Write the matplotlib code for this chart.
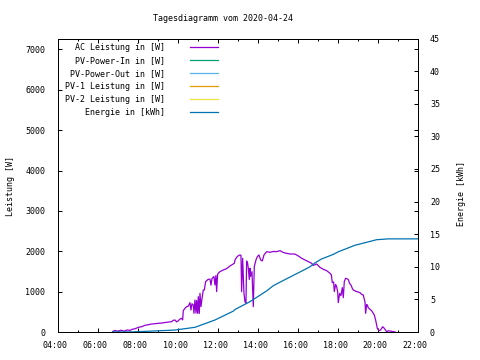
import matplotlib
matplotlib.use('Agg')
import matplotlib.pyplot as plt
from matplotlib.ticker import MultipleLocator, FuncFormatter
import matplotlib.transforms as mtrans

plt.rcParams['font.family'] = ['DejaVu Sans Mono', 'DejaVu Sans']
plt.rcParams['font.size'] = 6

# ---------------- data ----------------
title = "Tagesdiagramm vom 2020-04-24"
series_names = ["AC Leistung in [W]", "PV-Power-In in [W]", "PV-Power-Out in [W]",
                "PV-1 Leistung in [W]", "PV-2 Leistung in [W]", "Energie in [kWh]"]
series_colors = ["#9400d3", "#009e73", "#56b4e9", "#e69f00", "#f0e442", "#0072b2"]

ac_time = ["06:43", "06:50", "06:59", "07:08", "07:17", "07:26", "07:35", "07:41", "07:50",
           "08:00", "08:10", "08:20", "08:30", "08:40", "08:50", "09:00", "09:10", "09:20",
           "09:30", "09:40", "09:45", "09:50", "09:55", "10:00", "10:05", "10:10", "10:13",
           "10:15", "10:20", "10:25", "10:30", "10:35", "10:38", "10:41", "10:45", "10:47",
           "10:50", "10:53", "10:55", "10:58", "11:00", "11:03", "11:05", "11:08", "11:12",
           "11:15", "11:18", "11:22", "11:26", "11:30", "11:35", "11:38", "11:41", "11:44",
           "11:47", "11:50", "11:53", "11:55", "11:58", "12:00", "12:05", "12:15", "12:25",
           "12:35", "12:45", "12:48", "12:50", "12:55", "13:00", "13:05", "13:08", "13:10",
           "13:13", "13:17", "13:20", "13:23", "13:25", "13:28", "13:30", "13:33", "13:35",
           "13:37", "13:41", "13:45", "13:48", "13:53", "13:57", "14:02", "14:07", "14:12",
           "14:17", "14:25", "14:35", "14:45", "14:55", "15:05", "15:15", "15:25", "15:35",
           "15:50", "16:00", "16:10", "16:20", "16:30", "16:40", "16:45", "16:55", "17:05",
           "17:15", "17:25", "17:35", "17:39", "17:42", "17:46", "17:48", "17:52", "17:55",
           "17:58", "18:00", "18:04", "18:08", "18:12", "18:15", "18:18", "18:22", "18:26",
           "18:30", "18:34", "18:38", "18:42", "18:45", "18:50", "18:55", "19:00", "19:05",
           "19:10", "19:15", "19:18", "19:20", "19:22", "19:25", "19:27", "19:30", "19:35",
           "19:40", "19:45", "19:48", "19:52", "19:57", "20:02", "20:07", "20:13", "20:17",
           "20:20", "20:25", "20:30", "20:35", "20:45", "20:50"]
ac_power = [10, 40, 15, 45, 20, 50, 40, 66, 80,
            116, 130, 166, 180, 198, 205, 215, 222, 235,
            245, 256, 290, 297, 250, 280, 320, 339, 300,
            528, 587, 628, 640, 727, 545, 700, 669, 463,
            793, 470, 780, 463, 876, 460, 958, 628, 880,
            1040, 1040, 1247, 1280, 1305, 1310, 1160, 1320, 1350,
            1371, 1165, 1400, 1000, 1430, 1454, 1495, 1536, 1570,
            1635, 1685, 1702, 1780, 1850, 1890, 1908, 1900, 1000,
            1826, 958, 750, 711, 1760, 1700, 1578, 1300, 1578,
            1380, 1495, 628, 1620, 1784, 1866, 1908, 1784, 1760,
            1908, 1990, 1974, 1995, 1990, 2015, 1970, 1949, 1933,
            1930, 1883, 1826, 1784, 1742, 1702, 1650, 1685, 1602,
            1553, 1520, 1454, 1420, 1222, 1240, 1000, 1180, 1123,
            1000, 727, 958, 900, 1100, 850, 1250, 1330, 1320,
            1300, 1200, 1165, 1080, 1040, 1020, 1000, 990, 975,
            930, 917, 810, 752, 463, 680, 669, 600, 562,
            528, 463, 421, 297, 91, 33, 50, 132, 100,
            66, 8, 30, 25, 8, 5]

energy_time = ["06:43", "07:45", "08:45", "09:50", "10:50", "11:05", "11:50", "12:45", "12:50",
               "13:35", "14:25", "14:45", "15:15", "16:05", "16:35", "16:50", "17:10", "17:45",
               "18:00", "18:50", "19:40", "19:55", "20:30", "22:00"]
energy_kwh = [0.0, 0.02, 0.15, 0.3, 0.72, 1.0, 1.84, 3.2, 3.45,
              4.65, 6.3, 7.1, 7.9, 9.2, 10.0, 10.6, 11.2, 11.9,
              12.3, 13.3, 13.95, 14.15, 14.28, 14.28]

empty_time = []
empty_vals = []

x_range = (4, 22)
y_range = (0, 7270)
y2_range = (0, 45)


def to_hours(t):
    h, m = t.split(":")
    return int(h) + int(m) / 60.0


ac_h = [to_hours(t) for t in ac_time]
en_h = [to_hours(t) for t in energy_time]

# ---------------- figure ----------------
fig = plt.figure(figsize=(4.8, 3.6), dpi=100)
ax = fig.add_axes([58.3 / 480, 28 / 360, 360 / 480, 293.5 / 360])
ax2 = ax.twinx()

lw = 0.9
ax.plot(ac_h, ac_power, color=series_colors[0], lw=lw)
for c in series_colors[1:5]:
    ax.plot(empty_time, empty_vals, color=c, lw=lw)
ax2.plot(en_h, energy_kwh, color=series_colors[5], lw=lw)

ax.set_xlim(*x_range)
ax.set_ylim(*y_range)
ax2.set_ylim(*y2_range)

ax.xaxis.set_major_locator(MultipleLocator(2))
ax.xaxis.set_minor_locator(MultipleLocator(1))
ax.xaxis.set_major_formatter(FuncFormatter(lambda v, p: f"{int(round(v)):02d}:00"))
ax.yaxis.set_major_locator(MultipleLocator(1000))
ax2.yaxis.set_major_locator(MultipleLocator(5))

ax.tick_params(axis='x', which='major', direction='in', top=True, bottom=True,
               length=3.2, width=0.72, pad=6.3, labelsize=6)
ax.tick_params(axis='x', which='minor', direction='in', top=True, bottom=True,
               length=1.6, width=0.72)
ax.tick_params(axis='y', which='major', direction='in', left=True, right=True,
               length=3.2, width=0.72, pad=9.5, labelsize=6)
ax2.tick_params(axis='y', which='major', direction='in', right=True,
                length=3.2, width=0.72, pad=8.4, labelsize=6)

for a in (ax, ax2):
    for s in a.spines.values():
        s.set_linewidth(0.72)
        s.set_color('black')

offset = mtrans.ScaledTranslation(-3 / 100, 0, fig.dpi_scale_trans)
for lab in ax.get_xticklabels():
    lab.set_transform(lab.get_transform() + offset)

# labels and title
fig.text(223 / 480, 1 - 18.3 / 360, title, ha='center', va='center', fontsize=6)
fig.text(10.5 / 480, 1 - 186 / 360, "Leistung [W]", rotation=90, ha='center', va='center', fontsize=6)
fig.text(461.7 / 480, 1 - 193 / 360, "Energie [kWh]", rotation=90, ha='center', va='center', fontsize=6)

# legend (gnuplot style, right-justified text, sample line to the right)
lines = ax.get_lines() + ax2.get_lines()
handles = [lines[0], lines[1], lines[2], lines[3], lines[4], lines[5]]
y0 = (332 - 47.3) / 293.5
dy = 13 / 293.5
for i, (name, h) in enumerate(zip(series_names, handles)):
    yy = y0 - i * dy
    ax.text((165 - 58.3) / 360, yy, name, transform=ax.transAxes, ha='right', va='center', fontsize=6)
    ax.plot([(190 - 58.3) / 360, (218 - 58.3) / 360], [yy, yy], transform=ax.transAxes,
            color=h.get_color(), lw=lw, clip_on=False)

fig.savefig("out.png", dpi=100)
